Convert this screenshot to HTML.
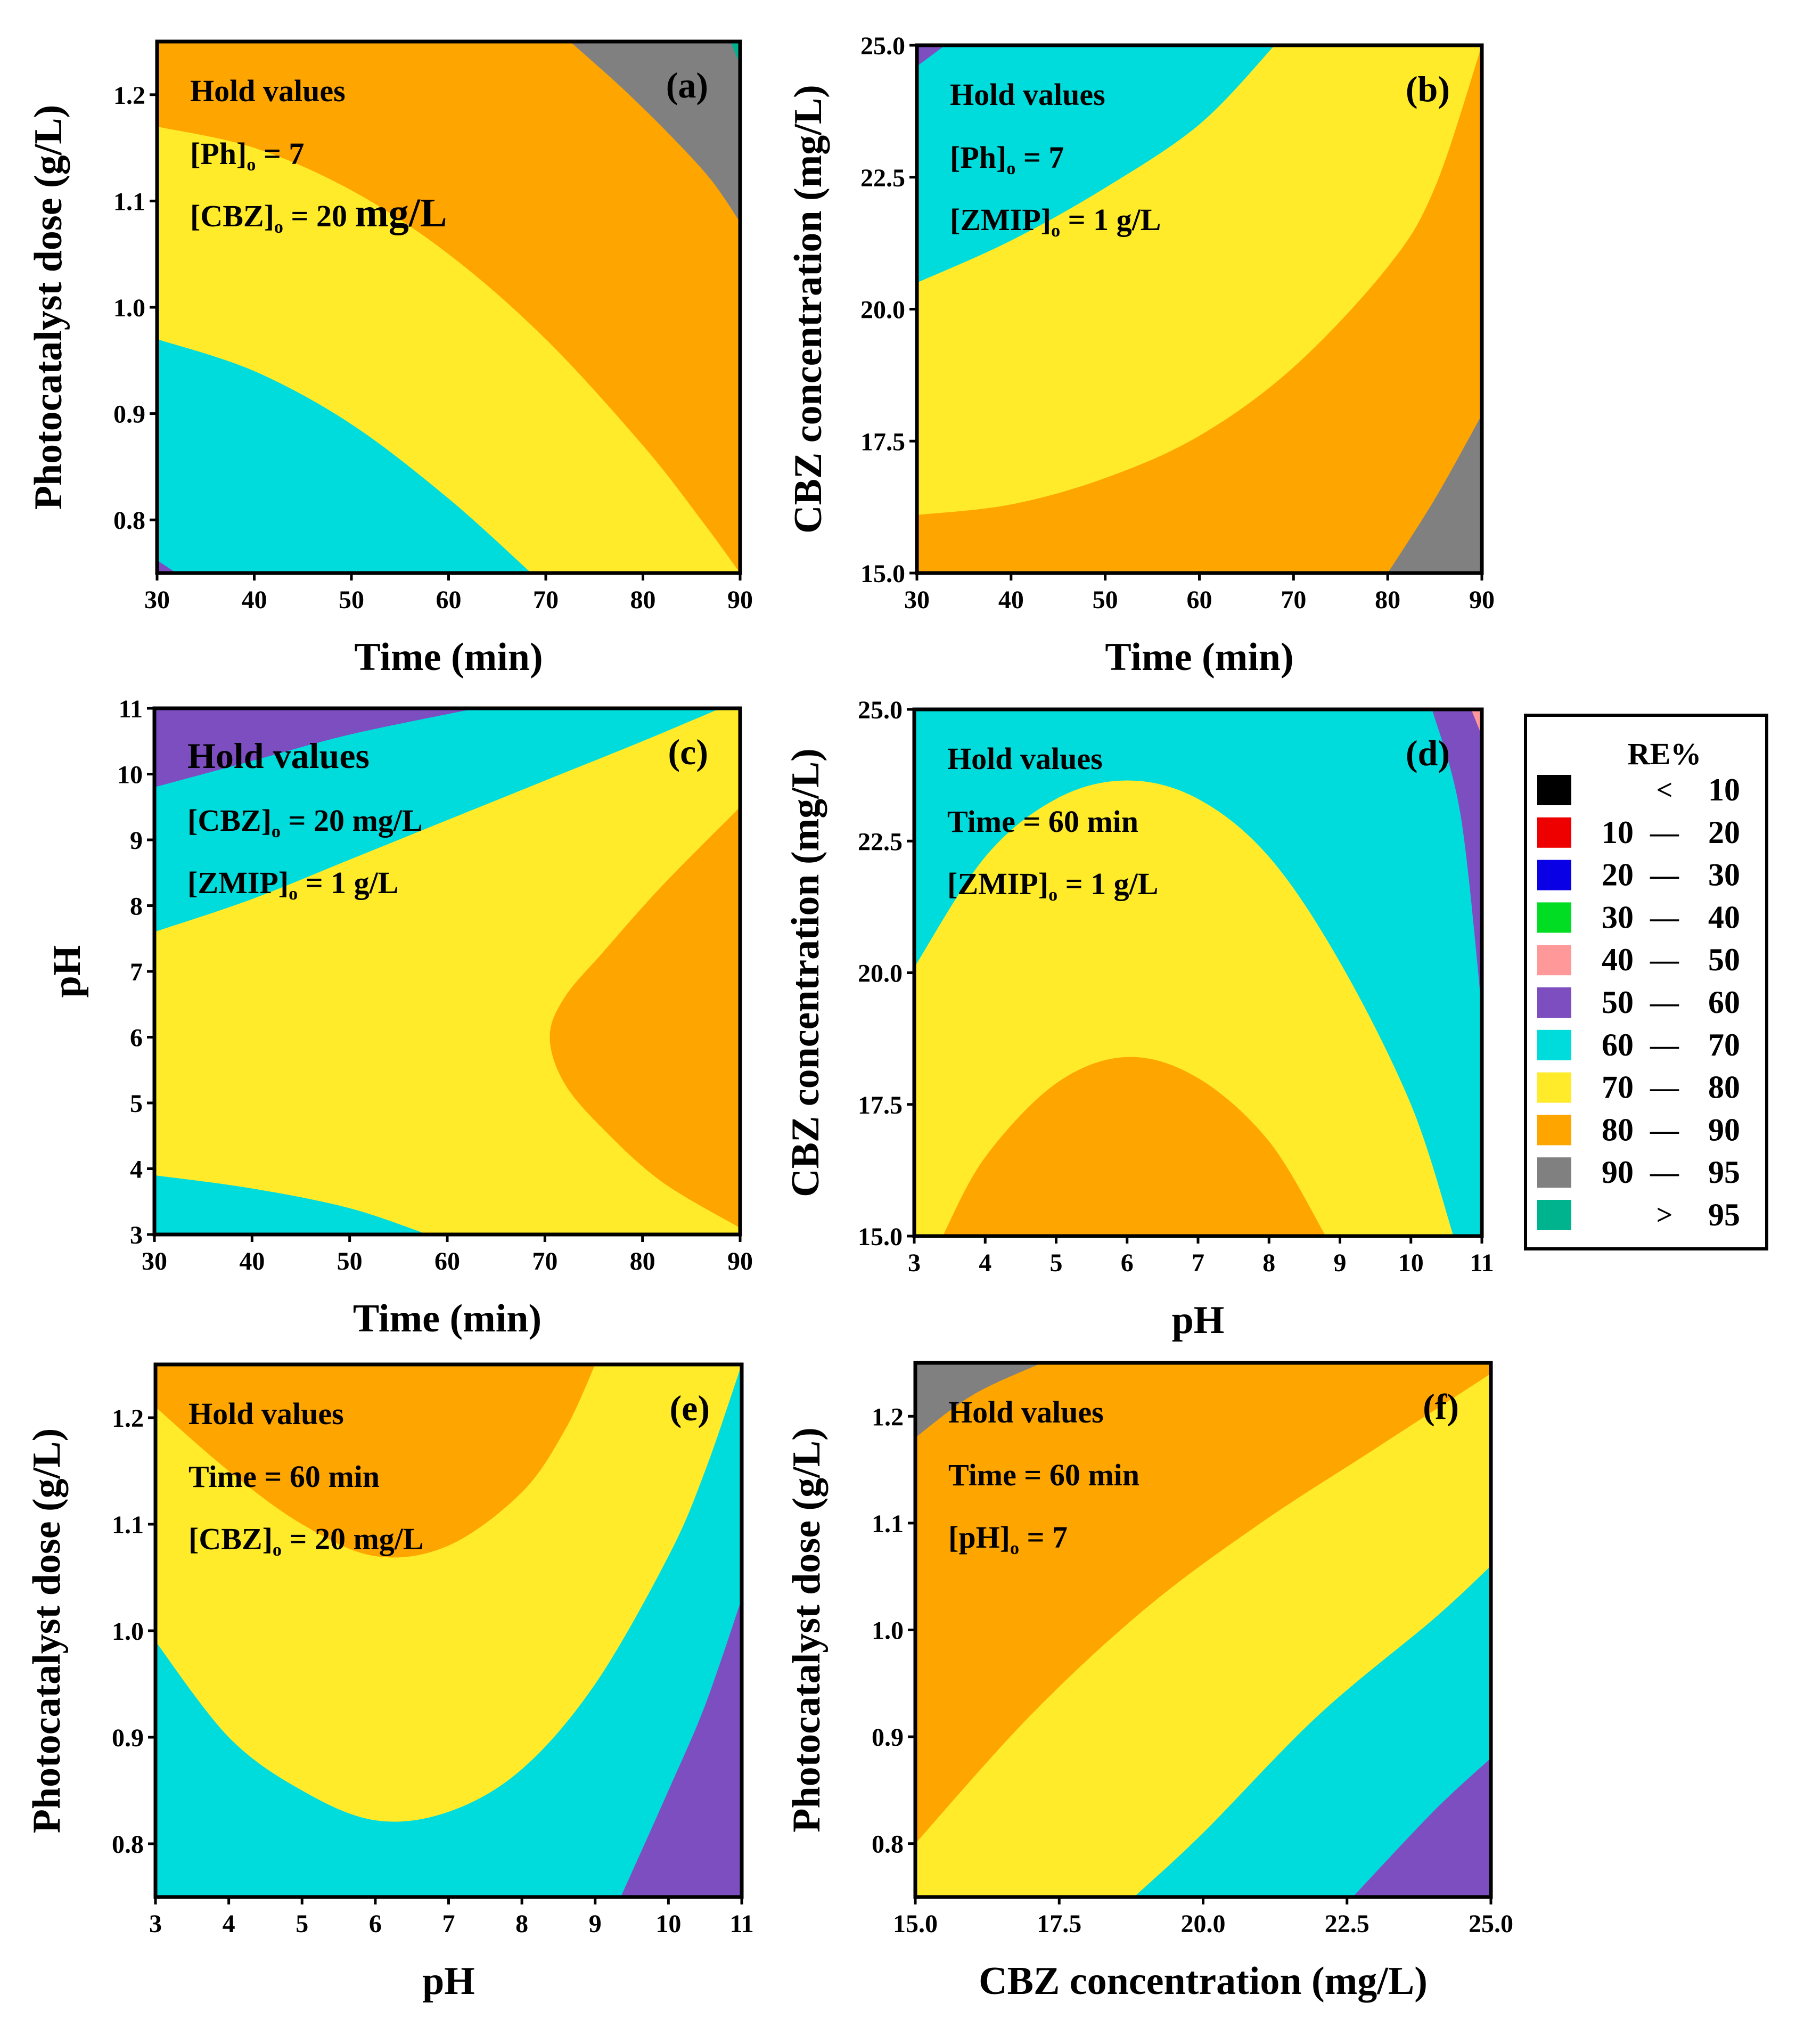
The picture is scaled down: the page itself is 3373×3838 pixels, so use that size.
<!DOCTYPE html>
<html><head><meta charset="utf-8">
<style>
html,body{margin:0;padding:0;background:#fff;}
svg{display:block;}
text{font-family:"Liberation Serif",serif;font-weight:bold;fill:#000;}
</style></head>
<body>
<svg id="root" width="3373" height="3838" viewBox="0 0 3373 3838" xmlns="http://www.w3.org/2000/svg"></svg>
<script>
// ---- data (contour region boundaries in data units) ----
const colors = {orange:"#FFA500", yellow:"#FFEB2A", cyan:"#00DCDC", purple:"#7D4EC0", gray:"#808080", teal:"#00B38F", pink:"#FF9999"};
const A_gray = [[72.5,1.25],[78,1.205],[83,1.16],[87,1.12],[90,1.08],[90,1.25]];
const A_teal = [[89,1.25],[90,1.228],[90,1.25]];
const A_yellow = [[30,1.17],[40,1.15],[50,1.11],[60,1.05],[70,0.97],[80,0.87],[86,0.80],[90,0.75],[30,0.75]];
const A_cyan = [[30,0.97],[40,0.94],[50,0.89],[60,0.82],[68.5,0.75],[30,0.75]];
const A_purple = [[30,0.762],[32,0.75],[30,0.75]];
const B_yellow = [[30,16.1],[40,16.3],[50,16.8],[60,17.6],[70,18.9],[80,20.8],[85,22.3],[90,25],[30,25]];
const B_cyan = [[30,20.5],[40,21.3],[50,22.3],[60,23.5],[68,25],[30,25]];
const B_purple = [[30,24.6],[33,25],[30,25]];
const B_gray = [[80,15],[85,16.4],[90,18],[90,15]];
const C_orange = [[90,9.5],[82,8.3],[76,7.3],[72,6.6],[70.5,6],[72,5.3],[76,4.6],[82,3.8],[90,3.1]];
const C_cyanTop = [[30,7.6],[40,8.1],[50,8.7],[60,9.3],[70,9.9],[80,10.5],[88,11],[30,11]];
const C_purple = [[30,9.8],[40,10.2],[50,10.6],[63,11],[30,11]];
const C_cyanBot = [[30,3.9],[40,3.7],[50,3.4],[58,3],[30,3]];
const D_yellow = [[3,20.1],[4,22.2],[5,23.3],[6,23.65],[7,23.3],[8,22.2],[9,20.2],[10,17.5],[10.6,15],[3,15]];
const D_orange = [[3.4,15],[4,16.5],[5,17.9],[6,18.4],[7,18],[8,16.8],[8.8,15]];
const D_purple = [[10.3,25],[10.7,23],[11,19.3],[11,25]];
const D_pink = [[10.85,25],[11,24.5],[11,25]];
const E_yellow = [[3,0.99],[4,0.90],[5,0.85],[6,0.822],[7,0.83],[8,0.87],[9,0.95],[10,1.07],[10.5,1.15],[11,1.25],[3,1.25]];
const E_orange = [[3,1.21],[4,1.15],[5,1.10],[6,1.07],[7,1.08],[8,1.13],[8.6,1.19],[9,1.25],[3,1.25]];
const E_purple = [[9.35,0.75],[10,0.85],[10.5,0.93],[11,1.03],[11,0.75]];
const F_orange = [[15,0.80],[17,0.92],[19,1.02],[21,1.10],[23,1.17],[25,1.24],[25,1.25],[15,1.25]];
const F_gray = [[15,1.18],[16,1.22],[17.2,1.25],[15,1.25]];
const F_cyan = [[18.8,0.75],[20,0.81],[22,0.92],[24,1.01],[25,1.06],[25,0.75]];
const F_purple = [[22.6,0.75],[24,0.83],[25,0.88],[25,0.75]];
const timeTicks = [30,40,50,60,70,80,90];
const doseTicks = [0.8,0.9,1.0,1.1,1.2];
const cbzTicks = [15.0,17.5,20.0,22.5,25.0];
const phTicks = [3,4,5,6,7,8,9,10,11];
const legendLow = ["","10","20","30","40","50","60","70","80","90",""];
const legendMid = ["<","—","—","—","—","—","—","—","—","—",">"];
const legendHigh = ["10","20","30","40","50","60","70","80","90","95","95"];
const legendColors = ["#000000","#EE0000","#0A00E6","#00DD22","#FF9999","#7D4EC0","#00DCDC","#FFEB2A","#FFA500","#808080","#00B38F"];

const NS="http://www.w3.org/2000/svg";
const root=document.getElementById('root');
function mk(tag,attrs,parent){const e=document.createElementNS(NS,tag);for(const k in attrs)e.setAttribute(k,attrs[k]);(parent||root).appendChild(e);return e;}

// smooth path: first n points via Catmull-Rom, rest straight lines
function smoothPath(P,n){
  let d='M'+P[0][0].toFixed(1)+','+P[0][1].toFixed(1);
  for(let i=0;i<n-1;i++){
    const p0=P[Math.max(i-1,0)],p1=P[i],p2=P[i+1],p3=P[Math.min(i+2,n-1)];
    const c1=[p1[0]+(p2[0]-p0[0])/6,p1[1]+(p2[1]-p0[1])/6];
    const c2=[p2[0]-(p3[0]-p1[0])/6,p2[1]-(p3[1]-p1[1])/6];
    d+=' C'+c1[0].toFixed(1)+','+c1[1].toFixed(1)+' '+c2[0].toFixed(1)+','+c2[1].toFixed(1)+' '+p2[0].toFixed(1)+','+p2[1].toFixed(1);
  }
  for(let i=n;i<P.length;i++)d+=' L'+P[i][0].toFixed(1)+','+P[i][1].toFixed(1);
  return d+' Z';
}

const panels=[
 {id:'a',L:295,R:1390,T:78,B:1076,xr:[30,90],yr:[0.75,1.25],xt:timeTicks,yt:doseTicks,yfmt:v=>v.toFixed(1),xfmt:v=>v,
  bg:'orange',regions:[['gray',A_gray,5],['teal',A_teal,2],['yellow',A_yellow,8],['cyan',A_cyan,5],['purple',A_purple,2]],
  xtitle:'Time (min)',ytitle:'Photocatalyst dose (g/L)',hold:[['[Ph]','o',' = 7'],['[CBZ]','o',' = 20 ','mg/L']]},
 {id:'b',L:1722,R:2783,T:85,B:1076,xr:[30,90],yr:[15,25],xt:timeTicks,yt:cbzTicks,yfmt:v=>v.toFixed(1),xfmt:v=>v,
  bg:'orange',regions:[['yellow',B_yellow,8],['cyan',B_cyan,5],['purple',B_purple,2],['gray',B_gray,3]],
  xtitle:'Time (min)',ytitle:'CBZ concentration (mg/L)',hold:[['[Ph]','o',' = 7'],['[ZMIP]','o',' = 1 g/L']]},
 {id:'c',L:290,R:1390,T:1330,B:2318,xr:[30,90],yr:[3,11],xt:timeTicks,yt:[3,4,5,6,7,8,9,10,11],yfmt:v=>v,xfmt:v=>v,
  bg:'yellow',regions:[['orange',C_orange,9],['cyan',C_cyanTop,7],['purple',C_purple,4],['cyan',C_cyanBot,4]],
  xtitle:'Time (min)',ytitle:'pH',hold:[['[CBZ]','o',' = 20 mg/L'],['[ZMIP]','o',' = 1 g/L']],bigHold:true},
 {id:'d',L:1717,R:2783,T:1332,B:2321,xr:[3,11],yr:[15,25],xt:phTicks,yt:cbzTicks,yfmt:v=>v.toFixed(1),xfmt:v=>v,
  bg:'cyan',regions:[['yellow',D_yellow,9],['orange',D_orange,7],['purple',D_purple,3],['pink',D_pink,2]],
  xtitle:'pH',ytitle:'CBZ concentration (mg/L)',hold:[['Time = 60 min','',''],['[ZMIP]','o',' = 1 g/L']]},
 {id:'e',L:292,R:1393,T:2562,B:3562,xr:[3,11],yr:[0.75,1.25],xt:phTicks,yt:doseTicks,yfmt:v=>v.toFixed(1),xfmt:v=>v,
  bg:'cyan',regions:[['yellow',E_yellow,10],['orange',E_orange,8],['purple',E_purple,4]],
  xtitle:'pH',ytitle:'Photocatalyst dose (g/L)',hold:[['Time = 60 min','',''],['[CBZ]','o',' = 20 mg/L']]},
 {id:'f',L:1719,R:2800,T:2559,B:3562,xr:[15,25],yr:[0.75,1.25],xt:cbzTicks,yt:doseTicks,yfmt:v=>v.toFixed(1),xfmt:v=>v.toFixed(1),
  bg:'yellow',regions:[['orange',F_orange,6],['gray',F_gray,3],['cyan',F_cyan,5],['purple',F_purple,3]],
  xtitle:'CBZ concentration (mg/L)',ytitle:'Photocatalyst dose (g/L)',hold:[['Time = 60 min','',''],['[pH]','o',' = 7']]}
];

panels.forEach(p=>{
  const g=mk('g',{});
  
  
  const sx=v=>p.L+(v-p.xr[0])/(p.xr[1]-p.xr[0])*(p.R-p.L);
  const sy=v=>p.B-(v-p.yr[0])/(p.yr[1]-p.yr[0])*(p.B-p.T);
  const cp=mk('clipPath',{id:'clip'+p.id},g);
  mk('rect',{x:p.L,y:p.T,width:p.R-p.L,height:p.B-p.T},cp);
  const bg=mk('rect',{x:p.L,y:p.T,width:p.R-p.L,height:p.B-p.T,fill:colors[p.bg]},g);
  
  
  const rg=mk('g',{'clip-path':'url(#clip'+p.id+')'},g);
  p.regions.forEach(([c,pts,n])=>{
    const P=pts.map(q=>[sx(q[0]),sy(q[1])]);
    const path=mk('path',{d:smoothPath(P,n),fill:colors[c]},rg);
    
    
  });
  const fr=mk('rect',{x:p.L,y:p.T,width:p.R-p.L,height:p.B-p.T,fill:'none',stroke:'#000','stroke-width':7},g);
  
  
  p.xt.forEach(v=>{
    const x=sx(v);
    mk('line',{x1:x,x2:x,y1:p.B,y2:p.B+14,stroke:'#000','stroke-width':5},g);
    const t=mk('text',{x:x,y:p.B+66,'font-size':48,'text-anchor':'middle'},g);
    t.textContent=p.xfmt(v);
    
    
  });
  p.yt.forEach(v=>{
    const y=sy(v);
    mk('line',{x1:p.L-14,x2:p.L,y1:y,y2:y,stroke:'#000','stroke-width':5},g);
    const t=mk('text',{x:p.L-22,y:y+17,'font-size':48,'text-anchor':'end'},g);
    t.textContent=p.yfmt(v);
    
    
  });
  const xt=mk('text',{x:(p.L+p.R)/2,y:p.B+182,'font-size':74,'text-anchor':'middle'},g);
  xt.textContent=p.xtitle;
  
  
  const ymid=(p.T+p.B)/2, yx=p.L-(p.ytitle==='pH'?140:180);
  const yt=mk('text',{x:yx,y:ymid,'font-size':74,'text-anchor':'middle',transform:'rotate(-90 '+yx+' '+ymid+')'},g);
  yt.textContent=p.ytitle;
  
  
  const hx=p.L+62, fs=p.bigHold?68:58;
  const h0=mk('text',{x:hx,y:p.T+112,'font-size':fs},g);
  h0.textContent='Hold values';
  
  
  p.hold.forEach((ln,i)=>{
    const t=mk('text',{x:hx,y:p.T+230+i*117,'font-size':58},g);
    
    
    const s1=mk('tspan',{},t);s1.textContent=ln[0];
    if(ln[1]){const s2=mk('tspan',{'font-size':34,dy:12},t);s2.textContent=ln[1];
      const s3=mk('tspan',{dy:-12},t);s3.textContent=ln[2];}
    if(ln[3]){const s4=mk('tspan',{'font-size':76},t);s4.textContent=ln[3];}
  });
  const pl=mk('text',{x:p.R-60,y:p.T+105,'font-size':68,'text-anchor':'end'},g);
  pl.textContent='('+p.id+')';
  
  
});

// legend
const lg=mk('g',{});


const lb=mk('rect',{x:2865,y:1343,width:453,height:1002,fill:'#fff',stroke:'#000','stroke-width':6},lg);


const lt=mk('text',{x:3126,y:1435,'font-size':58,'text-anchor':'middle'},lg);
lt.textContent='RE%';


legendColors.forEach((c,i)=>{
  const y=1455+i*79.8;
  const r=mk('rect',{x:2887,y:y,width:64,height:57,fill:c},lg);
  
  
  const t1=mk('text',{x:3068,y:y+48,'font-size':60,'text-anchor':'end'},lg);t1.textContent=legendLow[i];
  
  
  const t2=mk('text',{x:3126,y:y+46,'font-size':54,'text-anchor':'middle','font-weight':'normal'},lg);t2.textContent=legendMid[i];
  
  
  const t3=mk('text',{x:3268,y:y+48,'font-size':60,'text-anchor':'end'},lg);t3.textContent=legendHigh[i];
  
  
});
</script>
</body></html>
